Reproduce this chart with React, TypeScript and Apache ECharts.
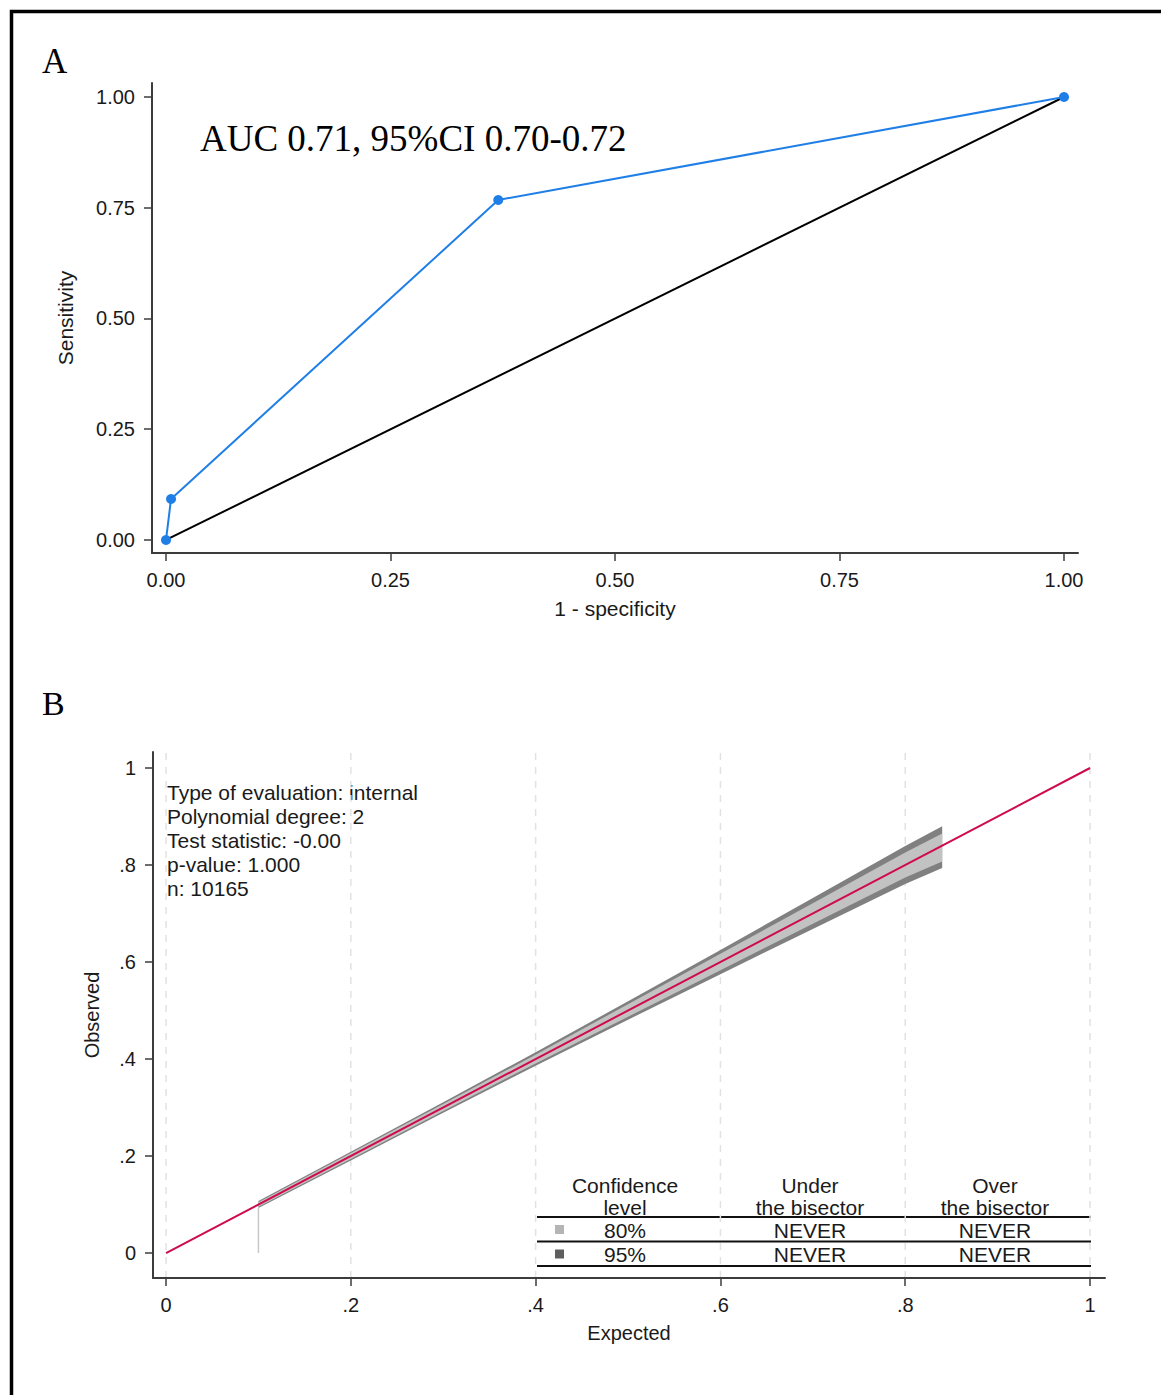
import React, { useEffect, useRef } from 'react';
import * as echarts from 'echarts';

// ---------- Panel A: ROC ----------
const rocX = [0, 0.0056, 0.37, 1];
const rocY = [0, 0.0926, 0.7675, 1];
const diagX = [0, 1];
const diagY = [0, 1];
const ticksA = [0, 0.25, 0.5, 0.75, 1];
const tickLabelsA = ['0.00', '0.25', '0.50', '0.75', '1.00'];

// ---------- Panel B: calibration belt ----------
const ticksB = [0, 0.2, 0.4, 0.6, 0.8, 1];
const tickLabelsB = ['0', '.2', '.4', '.6', '.8', '1'];
const beltX = [0.1, 0.2, 0.3, 0.4, 0.5, 0.6, 0.7, 0.8, 0.84];
const belt95Lo = [0.093, 0.191, 0.289, 0.386, 0.481, 0.575, 0.668, 0.761, 0.794];
const belt95Hi = [0.107, 0.209, 0.311, 0.414, 0.519, 0.625, 0.732, 0.839, 0.88];
const belt80Lo = [0.0955, 0.194, 0.293, 0.391, 0.487, 0.583, 0.679, 0.774, 0.807];
const belt80Hi = [0.1045, 0.206, 0.307, 0.409, 0.513, 0.617, 0.721, 0.826, 0.865];
const bisX = [0, 1];
const bisY = [0, 1];
const spikeX = [0.1, 0.1];
const spikeY = [0, 0.093];

const infoLines = [
  'Type of evaluation: internal',
  'Polynomial degree: 2',
  'Test statistic: -0.00',
  'p-value: 1.000',
  'n: 10165',
];
const tableHeader = [
  ['Confidence', 'level'],
  ['Under', 'the bisector'],
  ['Over', 'the bisector'],
];
const tableRows = [
  ['80%', 'NEVER', 'NEVER'],
  ['95%', 'NEVER', 'NEVER'],
];

const SANS = '"Liberation Sans", Arial, sans-serif';
const SERIF = '"Liberation Serif", "Times New Roman", serif';
const AX = '#3c3c3c';
const TXT = '#1a1a1a';
const DARK = '#808080';
const LIGHT = '#c2c2c2';

function labelFor(ticks: number[], labels: string[]) {
  return (v: number) => {
    const i = ticks.findIndex((t) => Math.abs(t - v) < 1e-9);
    return i >= 0 ? labels[i] : '';
  };
}

function makeAxis(opts: any) {
  return {
    type: 'value',
    gridIndex: opts.grid,
    min: opts.min,
    max: opts.max,
    name: opts.name,
    nameLocation: 'middle',
    nameGap: opts.nameGap,
    nameRotate: opts.rotate,
    nameTextStyle: { fontSize: opts.nameSize, color: TXT, fontFamily: SANS },
    axisLine: { show: true, onZero: false, lineStyle: { color: AX, width: 2 } },
    axisTick: {
      show: true,
      customValues: opts.ticks,
      length: 8,
      lineStyle: { color: AX, width: 1.5 },
    },
    axisLabel: {
      show: true,
      customValues: opts.ticks,
      formatter: labelFor(opts.ticks, opts.labels),
      fontSize: 20,
      color: TXT,
      fontFamily: SANS,
      margin: 17,
    },
    splitLine: { show: false },
    z: 6,
  };
}

export default function App() {
  const ref = useRef<HTMLDivElement>(null);
  useEffect(() => {
    if (!ref.current) return;
    const chart = echarts.init(ref.current, undefined, { renderer: 'svg' });

    const bandPoly = (lo: number[], hi: number[], fill: string) => (params: any, api: any) => {
      const pts: number[][] = [];
      for (let i = 0; i < beltX.length; i++) pts.push(api.coord([beltX[i], hi[i]]));
      for (let i = beltX.length - 1; i >= 0; i--) pts.push(api.coord([beltX[i], lo[i]]));
      return { type: 'polygon', shape: { points: pts }, style: { fill } };
    };

    const gridLines = (params: any, api: any) => {
      const children = ticksB.map((t) => {
        const p1 = api.coord([t, -0.0515]);
        const p2 = api.coord([t, 1.033]);
        return {
          type: 'line',
          shape: { x1: p1[0], y1: p1[1], x2: p2[0], y2: p2[1] },
          style: { stroke: '#e2e2e2', lineWidth: 1.5, lineDash: [7, 7] },
        };
      });
      return { type: 'group', children };
    };

    const graphics: any[] = [
      {
        type: 'rect',
        shape: { x: 11.5, y: 11.5, width: 1400, height: 1600 },
        style: { fill: 'none', stroke: '#000', lineWidth: 3.5 },
        silent: true,
      },
      {
        type: 'text', x: 42, y: 61,
        style: { text: 'A', fontSize: 35, fontFamily: SERIF, fill: '#000', verticalAlign: 'middle' },
      },
      {
        type: 'text', x: 200, y: 138,
        style: { text: 'AUC 0.71, 95%CI 0.70-0.72', fontSize: 37, fontFamily: SERIF, fill: '#000', verticalAlign: 'middle' },
      },
      {
        type: 'text', x: 42, y: 703,
        style: { text: 'B', fontSize: 34, fontFamily: SERIF, fill: '#000', verticalAlign: 'middle' },
      },
    ];
    infoLines.forEach((t, i) => {
      graphics.push({
        type: 'text', x: 167, y: 792 + i * 24.2,
        style: { text: t, fontSize: 21, fontFamily: SANS, fill: TXT, verticalAlign: 'middle' },
      });
    });
    const colX = [625, 810, 995];
    tableHeader.forEach((h, c) => {
      h.forEach((t, r) => {
        graphics.push({
          type: 'text', x: colX[c], y: 1185 + r * 22,
          style: { text: t, fontSize: 21, fontFamily: SANS, fill: TXT, align: 'center', verticalAlign: 'middle' },
        });
      });
    });
    tableRows.forEach((row, r) => {
      row.forEach((t, c) => {
        graphics.push({
          type: 'text', x: colX[c], y: 1230 + r * 24.5,
          style: { text: t, fontSize: 21, fontFamily: SANS, fill: TXT, align: 'center', verticalAlign: 'middle' },
        });
      });
      graphics.push({
        type: 'rect',
        shape: { x: 555, y: 1225 + r * 24.5, width: 9, height: 9 },
        style: { fill: r === 0 ? '#b5b5b5' : '#5e5e5e' },
      });
    });
    [1217, 1241.5, 1266].forEach((y) => {
      graphics.push({
        type: 'line',
        shape: { x1: 537, y1: y, x2: 1091, y2: y },
        style: { stroke: '#111', lineWidth: 2 },
      });
    });

    chart.setOption({
      animation: false,
      backgroundColor: '#fff',
      grid: [
        { left: 152, top: 83, width: 926, height: 470 },
        { left: 153, top: 752, width: 952, height: 526 },
      ],
      xAxis: [
        makeAxis({ grid: 0, min: -0.0156, max: 1.0156, ticks: ticksA, labels: tickLabelsA, name: '1 - specificity', nameGap: 45, nameSize: 21 }),
        makeAxis({ grid: 1, min: -0.0141, max: 1.0162, ticks: ticksB, labels: tickLabelsB, name: 'Expected', nameGap: 45, nameSize: 20 }),
      ],
      yAxis: [
        makeAxis({ grid: 0, min: -0.0294, max: 1.0316, ticks: ticksA, labels: tickLabelsA, name: 'Sensitivity', nameGap: 76, nameSize: 21, rotate: 90 }),
        makeAxis({ grid: 1, min: -0.0515, max: 1.033, ticks: ticksB, labels: tickLabelsB, name: 'Observed', nameGap: 51, nameSize: 20, rotate: 90 }),
      ],
      graphic: graphics,
      series: [
        {
          type: 'line', xAxisIndex: 0, yAxisIndex: 0,
          data: diagX.map((x, i) => [x, diagY[i]]),
          showSymbol: false, lineStyle: { color: '#000', width: 2 }, z: 2,
        },
        {
          type: 'line', xAxisIndex: 0, yAxisIndex: 0,
          data: rocX.map((x, i) => [x, rocY[i]]),
          symbol: 'circle', symbolSize: 10, showSymbol: true,
          itemStyle: { color: '#1f7fe6' },
          lineStyle: { color: '#1f7fe6', width: 2 }, z: 3,
        },
        {
          type: 'custom', xAxisIndex: 1, yAxisIndex: 1,
          data: [[0.5, 0.5]],
          renderItem: gridLines,
          z: 1, silent: true, clip: false,
        },
        {
          type: 'line', xAxisIndex: 1, yAxisIndex: 1,
          data: spikeX.map((x, i) => [x, spikeY[i]]),
          showSymbol: false, lineStyle: { color: '#c8c8c8', width: 1.5 }, z: 2,
        },
        {
          type: 'custom', xAxisIndex: 1, yAxisIndex: 1,
          data: [[0.5, 0.5]],
          renderItem: bandPoly(belt95Lo, belt95Hi, DARK),
          z: 3, silent: true,
        },
        {
          type: 'custom', xAxisIndex: 1, yAxisIndex: 1,
          data: [[0.5, 0.5]],
          renderItem: bandPoly(belt80Lo, belt80Hi, LIGHT),
          z: 4, silent: true,
        },
        {
          type: 'line', xAxisIndex: 1, yAxisIndex: 1,
          data: bisX.map((x, i) => [x, bisY[i]]),
          showSymbol: false, lineStyle: { color: '#cf0b4b', width: 2 }, z: 5,
        },
      ],
    });
    return () => chart.dispose();
  }, []);
  return (
    <div
      ref={ref}
      style={{ position: 'absolute', left: 0, top: 0, width: 1161, height: 1395, background: '#fff' }}
    />
  );
}
